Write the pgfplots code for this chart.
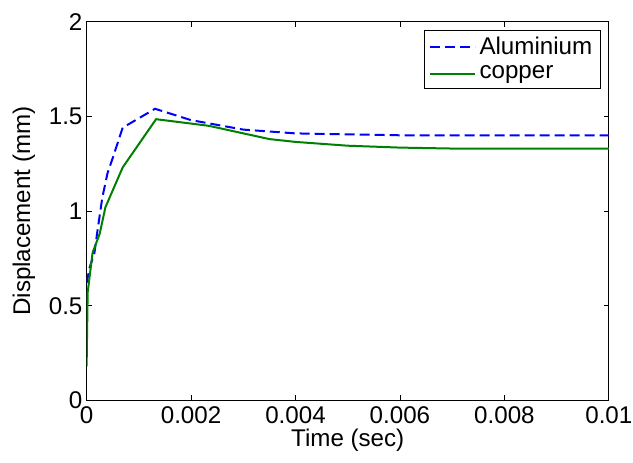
\documentclass[border=0pt]{standalone}
\usepackage{pgfplots}
\pgfplotsset{compat=1.18}
\usetikzlibrary{calc}
\usepackage{fontspec}
\setmainfont{Liberation Sans}

\definecolor{mblue}{RGB}{0,0,255}
\definecolor{mgreen}{RGB}{0,128,0}

\begin{document}
\begin{tikzpicture}
\begin{axis}[
  scale only axis,
  width=313.5pt, height=227.4pt,
  xmin=0, xmax=0.01, ymin=0, ymax=2,
  xtick={0,0.002,0.004,0.006,0.008,0.01},
  ytick={0,0.5,1,1.5,2},
  scaled x ticks=false,
  xticklabel style={/pgf/number format/fixed, /pgf/number format/precision=3},
  /pgf/number format/assume math mode=true,
  tick align=inside,
  tick pos=both,
  major tick length=3pt,
  tick style={black, line width=0.5pt},
  axis line style={black, line width=0.5pt},
  xlabel={Time (sec)},
  ylabel={Displacement (mm)},
  xlabel style={at={(axis description cs:0.5,-0.105)}, anchor=center},
  ylabel style={at={(axis description cs:-0.12,0.5)}, anchor=center},
  ticklabel style={font=\fontsize{14.5}{16}\selectfont},
  yticklabel style={xshift=1pt},
  label style={font=\fontsize{14.5}{16}\selectfont},
  legend style={at={(0.985,0.977)}, anchor=north east, draw=black,
    line width=0.5pt, font=\fontsize{14.5}{16}\selectfont,
    inner xsep=3pt, inner ysep=2pt, row sep=1pt},
  legend cell align=left,
  legend image code/.code={\draw[#1] (0pt,0pt) -- (27pt,0pt);},
]
\addplot[mblue, line width=1.2pt, dash pattern=on 6pt off 3pt] coordinates {
  (0,0.62) (0.000057,0.70) (0.00015,0.78) (0.00021,0.90) (0.0003,1.07)
  (0.0004,1.20) (0.0005,1.28) (0.00069,1.44) (0.00131,1.54) (0.002,1.48)
  (0.003,1.43) (0.004,1.41) (0.005,1.405) (0.006,1.40) (0.008,1.40) (0.01,1.40)
};
\addlegendentry{Aluminium}
\addplot[mgreen, line width=1.2pt] coordinates {
  (0,0.18) (0.00002,0.57) (0.000114,0.78) (0.00025,0.88) (0.00036,1.02)
  (0.00069,1.23) (0.00133,1.485) (0.00234,1.45) (0.0035,1.38) (0.004,1.365)
  (0.005,1.345) (0.006,1.335) (0.007,1.33) (0.01,1.33)
};
\addlegendentry{copper}
\end{axis}
\pgfresetboundingbox
\path[use as bounding box] ($(current axis.south west)+(-52pt,-37pt)$) rectangle ($(current axis.north east)+(14.5pt,13pt)$);
\end{tikzpicture}
\end{document}
